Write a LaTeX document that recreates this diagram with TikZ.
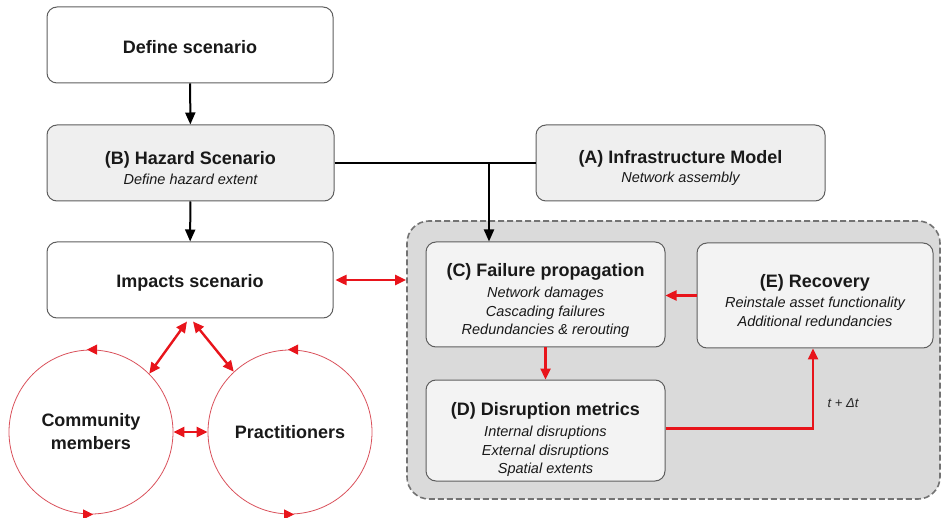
\documentclass[tikz,border=0pt]{standalone}
\usepackage{fontspec}
\setmainfont{Liberation Sans}
\usetikzlibrary{arrows.meta,calc}

\definecolor{arrred}{HTML}{E8141B}
\definecolor{ringred}{HTML}{D9505A}
\definecolor{boxline}{HTML}{5E5E5E}
\definecolor{panel}{HTML}{DADADA}
\definecolor{panelline}{HTML}{737373}
\definecolor{softfill}{HTML}{EFEFEF}
\definecolor{innerfill}{HTML}{F3F3F3}

\newcommand{\ttl}{\fontsize{18}{21}\selectfont\upshape\bfseries}
\newcommand{\subt}{\fontsize{14.5}{18.5}\selectfont\itshape}

\tikzset{
  box/.style={draw=boxline, line width=1pt, rounded corners=10pt,
    inner sep=0pt},
  txt/.style={align=center, inner sep=0pt, text=black!90, font=\subt},
  panelbox/.style={draw=panelline, fill=panel, line width=1.6pt,
    dash pattern=on 6pt off 3pt, rounded corners=22pt, inner sep=0pt},
  ring/.style={draw=ringred, line width=0.8pt, circle, minimum size=164pt,
    inner sep=0pt, align=center, font=\ttl, text=black!90},
  blk/.style={line width=2pt, draw=black,
    -{Triangle[length=12pt,width=10pt]}},
  redarr/.style={line width=2.4pt, draw=arrred,
    -{Triangle[length=11pt,width=10pt]}},
  redboth/.style={line width=2.4pt, draw=arrred,
    {Triangle[length=11pt,width=10pt]}-{Triangle[length=11pt,width=10pt]}},
  ringtip/.style={draw=ringred, line width=0.8pt,
    -{Triangle[length=10pt,width=10pt,color=arrred]}},
}

\begin{document}
\begin{tikzpicture}[x=1pt,y=1pt]
\useasboundingbox (0,0) rectangle (942,-518);

% grey simulation panel behind C, D and E
\node[panelbox, minimum width=533pt, minimum height=278pt] (sim) at (673.5,-360) {};

% boxes
\node[box, minimum width=286pt, minimum height=76pt] (def) at (190,-45) {};
\node[box, fill=softfill, minimum width=287pt, minimum height=76pt] (hz) at (190.5,-163) {};
\node[box, fill=softfill, minimum width=289pt, minimum height=76pt] (inf) at (680.5,-163) {};
\node[box, minimum width=286pt, minimum height=76pt] (imp) at (190,-280) {};
\node[box, fill=innerfill, minimum width=239pt, minimum height=105pt] (cF) at (545.5,-294.5) {};
\node[box, fill=innerfill, minimum width=236pt, minimum height=105pt] (eR) at (815,-295.5) {};
\node[box, fill=innerfill, minimum width=239pt, minimum height=101pt] (dM) at (545.5,-430.5) {};

% box texts
\node[txt] (defT) at ([yshift=-2pt]def.center) {\ttl Define scenario};
\node[txt] (hzT) at ([yshift=-5pt]hz.center)
  {\ttl (B) Hazard Scenario\\[2pt] Define hazard extent};
\node[txt] (infT) at ([yshift=-5pt]inf.center)
  {\ttl (A) Infrastructure Model\\[1pt] Network assembly};
\node[txt] (impT) at ([yshift=-3pt]imp.center) {\ttl Impacts scenario};
\node[txt] (cFT) at ([yshift=-6pt]cF.center)
  {\ttl (C) Failure propagation\\[3pt] Network damages\\ Cascading failures\\ Redundancies \& rerouting};
\node[txt] (eRT) at ([yshift=-5pt]eR.center)
  {\ttl (E) Recovery\\[2pt] Reinstale asset functionality\\ Additional redundancies};
\node[txt] (dMT) at ([yshift=-9pt]dM.center)
  {\ttl (D) Disruption metrics\\[3pt] Internal disruptions\\ External disruptions\\ Spatial extents};
\node[font=\fontsize{13}{15}\selectfont\itshape, text=black!85] (dt) at (843,-403) {t + Δt};

% stakeholder circles
\node[ring] (cm) at (91,-432) {Community\\[2pt] members};
\node[ring] (pr) at (290,-432) {Practitioners};

% black flow
\coordinate (j) at (489,-163);
\draw[blk] (def) -- (hz);
\draw[blk] (hz) -- (imp);
\draw[line width=2pt] (hz.east) -- (inf.west);
\draw[blk] (j) -- (j |- cF.north);

% red flow
\draw[redboth] ([xshift=2pt]imp.east) -- (imp.east -| sim.west);
\draw[redarr] (eR.west) -- (eR.west -| cF.east);
\draw[redarr] (cF.south) -- (dM.north);
\draw[redarr] ([yshift=2pt]dM.east) -| ([xshift=-2pt]eR.south);
\draw[redboth] ([xshift=-3pt,yshift=-3pt]imp.south) -- (cm.45);
\draw[redboth] ([xshift=3pt,yshift=-3pt]imp.south) -- (pr.133);
\draw[redboth] (cm.east) -- (pr.west);

% direction marks on the circles
\draw[ringtip] ([xshift=4pt]cm.north) -- ([xshift=-4pt]cm.north);
\draw[ringtip] ([xshift=-6pt]cm.south) -- ([xshift=2pt]cm.south);
\draw[ringtip] ([xshift=6pt]pr.north) -- ([xshift=-2pt]pr.north);
\draw[ringtip] ([xshift=-4pt]pr.south) -- ([xshift=4pt]pr.south);
\end{tikzpicture}
\end{document}
